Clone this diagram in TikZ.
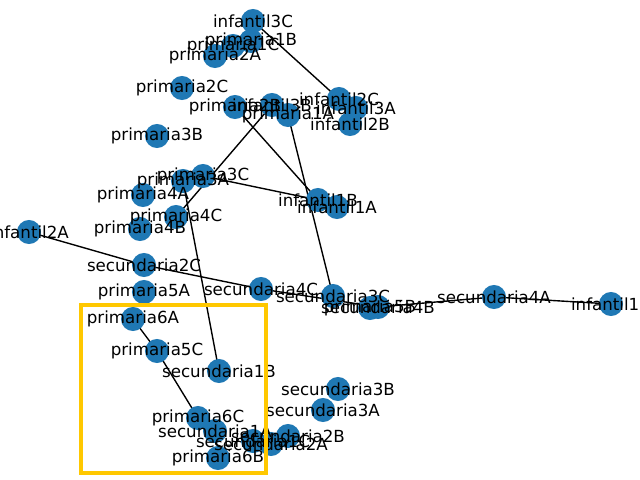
\documentclass[tikz,border=0pt]{standalone}
\usepackage{fontspec}
\setmainfont{DejaVu Sans}
\usetikzlibrary{backgrounds}
\definecolor{nodeblue}{HTML}{1F78B4}
\definecolor{framegold}{HTML}{FFC800}
\tikzset{
  vtx/.style={circle, fill=nodeblue, draw=none, minimum size=17.3pt, inner sep=0pt},
  lbl/.style={inner sep=0pt, font=\fontsize{12pt}{14pt}\selectfont, text=black},
  edge/.style={draw=black, line width=1pt},
  frame/.style={draw=framegold, line width=3pt}
}
\newcommand{\vtxat}[3]{\node[vtx] (#1) at (#2,#3) {};}
\begin{document}
\begin{tikzpicture}[x=0.72pt,y=-0.72pt]
\useasboundingbox (0,0) rectangle (640,480);
% vertices
\vtxat{infantil3C}{253}{21}
\vtxat{primaria1B}{251}{41}
\vtxat{primaria1C}{233}{46}
\vtxat{primaria2A}{215}{56}
\vtxat{primaria2C}{182}{88}
\vtxat{primaria2B}{235}{107}
\vtxat{infantil3B}{272}{105}
\vtxat{primaria1A}{288}{115}
\vtxat{infantil2C}{339}{99}
\vtxat{infantil3A}{356}{108}
\vtxat{infantil2B}{350}{124}
\vtxat{primaria3B}{157}{136}
\vtxat{primaria3C}{203}{176}
\vtxat{primaria3A}{183}{181}
\vtxat{primaria4A}{143}{195}
\vtxat{primaria4C}{176}{217}
\vtxat{primaria4B}{140}{229}
\vtxat{infantil1B}{318}{200}
\vtxat{infantil1A}{337}{207}
\vtxat{infantil2A}{29}{232}
\vtxat{secundaria2C}{144}{265}
\vtxat{secundaria4C}{261}{289}
\vtxat{primaria5A}{144}{292}
\vtxat{secundaria3C}{333}{296}
\vtxat{primaria5B}{370}{308}
\vtxat{secundaria4B}{378}{307}
\vtxat{secundaria4A}{494}{297}
\vtxat{infantil1C}{611}{304}
\vtxat{primaria6A}{133}{319}
\vtxat{primaria5C}{157}{351}
\vtxat{secundaria1B}{219}{371}
\vtxat{secundaria3B}{338}{389}
\vtxat{secundaria3A}{323}{410}
\vtxat{primaria6C}{198}{418}
\vtxat{secundaria1A}{215}{431}
\vtxat{secundaria1C}{253}{441}
\vtxat{secundaria2A}{271}{444}
\vtxat{secundaria2B}{288}{436}
\vtxat{primaria6B}{218}{458}
% connectors, kept beneath the vertices
\begin{pgfonlayer}{background}
\draw[edge] (infantil3C.center) -- (infantil2C.center);
\draw[edge] (primaria2B.center) -- (infantil1B.center);
\draw[edge] (infantil3B.center) -- (primaria4C.center);
\draw[edge] (primaria3C.center) -- (infantil1B.center);
\draw[edge] (primaria1A.center) -- (secundaria3C.center);
\draw[edge] (primaria3A.center) -- (secundaria1B.center);
\draw[edge] (infantil2A.center) -- (secundaria2C.center);
\draw[edge] (secundaria2C.center) -- (secundaria4C.center);
\draw[edge] (secundaria4C.center) -- (secundaria4B.center);
\draw[edge] (secundaria4B.center) -- (secundaria4A.center);
\draw[edge] (secundaria4A.center) -- (infantil1C.center);
\draw[edge] (primaria6A.center) -- (primaria5C.center);
\draw[edge] (primaria5C.center) -- (primaria6C.center);
\end{pgfonlayer}
% labels
\foreach \n in {infantil3C,primaria1B,primaria1C,primaria2A,primaria2C,primaria2B,
  infantil3B,primaria1A,infantil2C,infantil3A,infantil2B,primaria3B,primaria3C,
  primaria3A,primaria4A,primaria4C,primaria4B,infantil1B,infantil1A,infantil2A,
  secundaria2C,secundaria4C,primaria5A,secundaria3C,primaria5B,secundaria4B,
  secundaria4A,infantil1C,primaria6A,primaria5C,secundaria1B,secundaria3B,
  secundaria3A,primaria6C,secundaria1A,secundaria1C,secundaria2A,secundaria2B,
  primaria6B}
  {\node[lbl] at (\n) {\n};}
% highlight frame
\draw[frame] (81,305) rectangle (266,473);
\end{tikzpicture}
\end{document}
